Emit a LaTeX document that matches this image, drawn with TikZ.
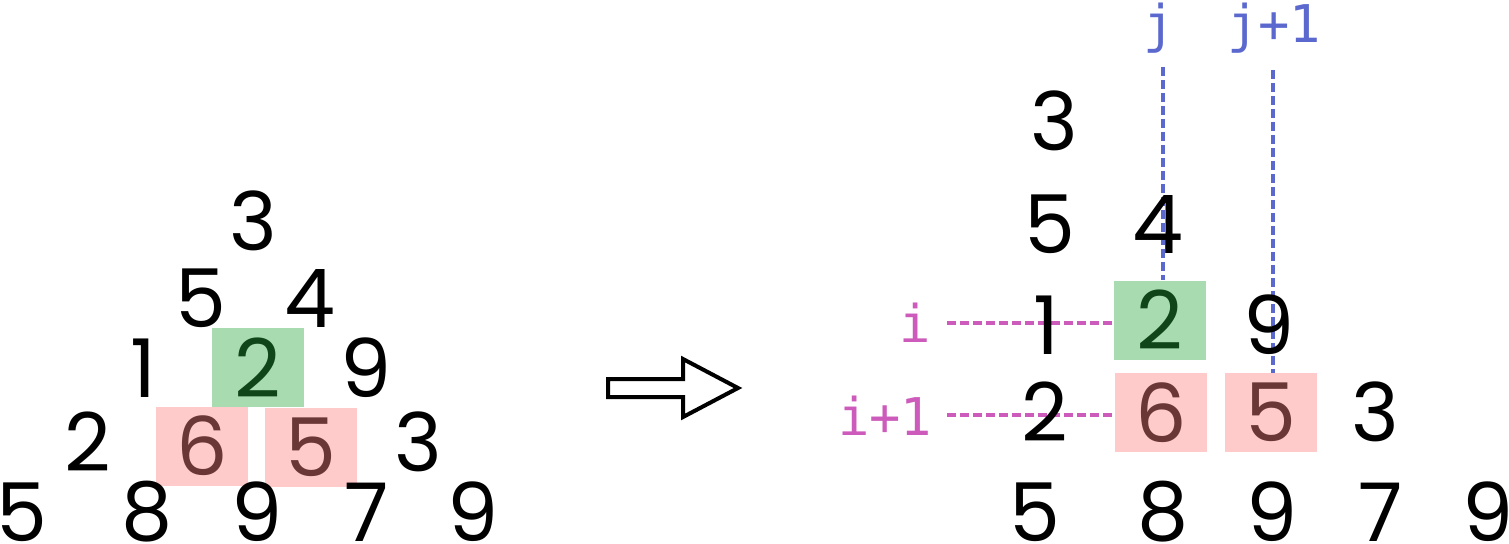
\documentclass[tikz,border=0pt]{standalone}
\usepackage{fontspec}
\setmainfont{Poppins}
\setmonofont{DejaVu Sans Mono}
\usetikzlibrary{positioning}

\definecolor{boxgreen}{HTML}{A8DBB0}
\definecolor{txtgreen}{HTML}{0F4519}
\definecolor{boxpink}{HTML}{FFCACA}
\definecolor{txtpink}{HTML}{6B3636}
\definecolor{jblue}{HTML}{5B69CF}
\definecolor{imag}{HTML}{CC5BBB}

\pgfdeclarelayer{back}
\pgfsetlayers{back,main}

\begin{document}
\begin{tikzpicture} [x=0.5pt, y=-0.5pt,
            num/.style = {inner sep=0pt, font=\fontsize{40.5}{40.5}\selectfont},
            hit/.style = {num, fill=boxgreen, text=txtgreen,
                minimum width=46pt, minimum height=39.5pt},
            swap/.style = {num, fill=boxpink, text=txtpink,
                minimum width=46pt, minimum height=39.5pt},
            idx/.style = {inner sep=0pt, anchor=base,
                font=\ttfamily\fontsize{26}{26}\selectfont},
            guide/.style = {dash pattern=on 4.5pt off 2pt, line width=1.8pt}]

        \useasboundingbox (0,0) rectangle (1509,543);

        % Left triangle
        \node (l00) [num] at (253,221) {3};
        \node (l10) [num] at (201,298) {5};
        \node (l11) [num] at (310,298) {4};
        \node (l20) [num] at (143,368) {1};
        \node (lg)  [hit] at (257.5,367.5) {2};
        \node (l22) [num] at (366,368) {9};
        \node (l30) [num] at (88,442) {2};
        \node (lp1) [swap] at (202,446) {6};
        \node (lp2) [swap] at (311,447.5) {5};
        \node (l33) [num] at (418,442) {3};
        \node (l40) [num] at (22,512) {5};
        \node (l41) [num] at (147,512) {8};
        \node (l42) [num] at (257,512) {9};
        \node (l43) [num] at (367,512) {7};
        \node (l44) [num] at (473,512) {9};

        % Arrow
        \draw [line width=2pt] (608,379) -- (683,379) -- (683,359) -- (738,388)
            -- (683,417) -- (683,397) -- (608,397) -- cycle;

        % Right triangle
        \node (r00) [num] at (1054,121) {3};
        \node (r10) [num] at (1050,224) {5};
        \node (r11) [num] at (1158,224) {4};
        \node (r20) [num] at (1046,325) {1};
        \node (rg)  [hit] at (1160,320) {2};
        \node (r22) [num] at (1269,325) {9};
        \node (r30) [num] at (1045,412) {2};
        \node (rp1) [swap] at (1161,412.5) {6};
        \node (rp2) [swap] at (1271,412.5) {5};
        \node (r33) [num] at (1375,412) {3};
        \node (r40) [num] at (1035,512) {5};
        \node (r41) [num] at (1163,512) {8};
        \node (r42) [num] at (1272,512) {9};
        \node (r43) [num] at (1381,512) {7};
        \node (r44) [num] at (1488,512) {9};

        % Index labels
        \node (jlab)  [idx, text=jblue] at (1159,42) {j};
        \node (j1lab) [idx, text=jblue] at (1274,42) {j+1};
        \node (ilab)  [idx, text=imag] at (915,342) {i};
        \node (i1lab) [idx, text=imag] at (885,435) {i+1};

        \coordinate (jtop)  at (1163,67);
        \coordinate (j1top) at (1273,70);
        \coordinate (itop)  at (947,323);
        \coordinate (i1top) at (947,415);

        % Guides
        \begin{pgfonlayer}{back}
        \draw [guide, jblue] (jtop) -- (jtop |- rg.north);
        \draw [guide, jblue] (j1top) -- (j1top |- rp2.north);
        \draw [guide, imag] (itop) -- (itop -| rg.west);
        \draw [guide, imag] (i1top) -- (i1top -| rp1.west);
        \end{pgfonlayer}
\end{tikzpicture}
\end{document}
